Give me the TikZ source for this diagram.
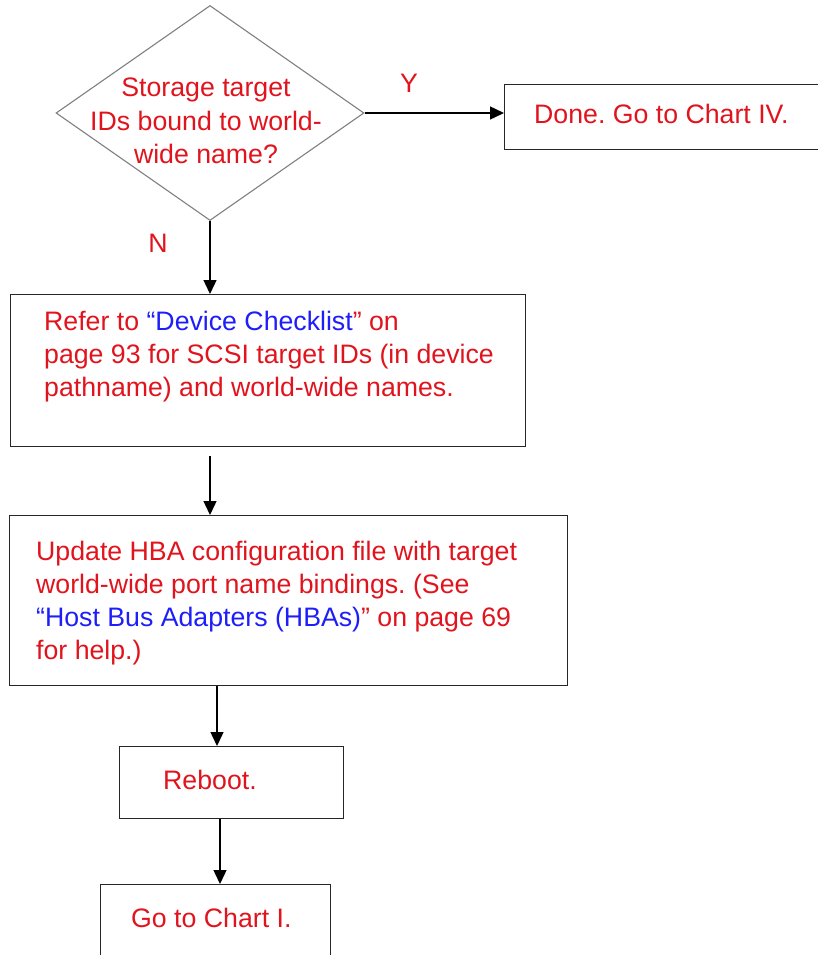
\documentclass[tikz,border=0pt]{standalone}
\usepackage{fontspec}
\setmainfont{Liberation Sans}
\usetikzlibrary{shapes.geometric,arrows.meta}
\definecolor{txtred}{RGB}{225,20,30}
\definecolor{lnkblue}{RGB}{30,30,250}
\frenchspacing
\begin{document}
\begin{tikzpicture}[x=1pt,y=-1pt,
  box/.style={draw=black!85,line width=1.4pt,rectangle,inner sep=0pt,anchor=north west},
  txt/.style={text=txtred,font=\fontsize{26.7}{33.3}\selectfont,inner sep=0pt,anchor=base west},
  arr/.style={draw=black,line width=1.4pt,-{Triangle[length=14pt,width=13pt]}}]
\useasboundingbox[fill=white] (0,0) rectangle (818,955);
% decision
\node[diamond, draw=black!50, line width=1.1pt, minimum width=308pt, minimum height=215pt, inner sep=0pt] (d) at (210,113) {};
\node[txt, anchor=base] (dt) at (206,97) {\begin{tabular}[t]{@{}c@{}}Storage target\\IDs bound to world-\\wide name?\end{tabular}};
\node[txt, anchor=base] (yl) at (409,93) {Y};
\node[txt, anchor=base] (nl) at (158,252) {N};
% boxes
\node[box, minimum width=340pt, minimum height=65pt] (done) at (504,84) {};
\node[txt] (donet) at (534,124) {Done. Go to Chart IV.};
\node[box, minimum width=515pt, minimum height=152pt] (b2) at (10,294) {};
\node[txt] (b2t) at (44,330) {\begin{tabular}[t]{@{}l@{}}Refer to \textcolor{lnkblue}{“Device Checklist}” on\\page 93 for SCSI target IDs (in device\\pathname) and world-wide names.\end{tabular}};
\node[box, minimum width=558pt, minimum height=170pt] (b3) at (9,515) {};
\node[txt] (b3t) at (36,560) {\begin{tabular}[t]{@{}l@{}}Update HBA configuration file with target\\world-wide port name bindings. (See\\\textcolor{lnkblue}{“Host Bus Adapters (HBAs)}” on page 69\\for help.)\end{tabular}};
\node[box, minimum width=224pt, minimum height=72pt] (rb) at (119,746) {};
\node[txt] (rbt) at (163,789) {Reboot.};
\node[box, minimum width=230pt, minimum height=90pt] (go) at (100,884) {};
\node[txt] (got) at (131,927) {Go to Chart I.};
% connectors
\coordinate (xa) at (210,0);
\coordinate (xb) at (217,0);
\coordinate (xc) at (220,0);
\draw[arr] (d.east) -- (d.east -| done.west);
\draw[arr] (d.south) -- (b2.north -| d.south);
\draw[arr, shorten <=9pt] (b2.south -| xa) -- (b3.north -| xa);
\draw[arr] (b3.south -| xb) -- (rb.north -| xb);
\draw[arr] (rb.south -| xc) -- (go.north -| xc);
\end{tikzpicture}
\end{document}
